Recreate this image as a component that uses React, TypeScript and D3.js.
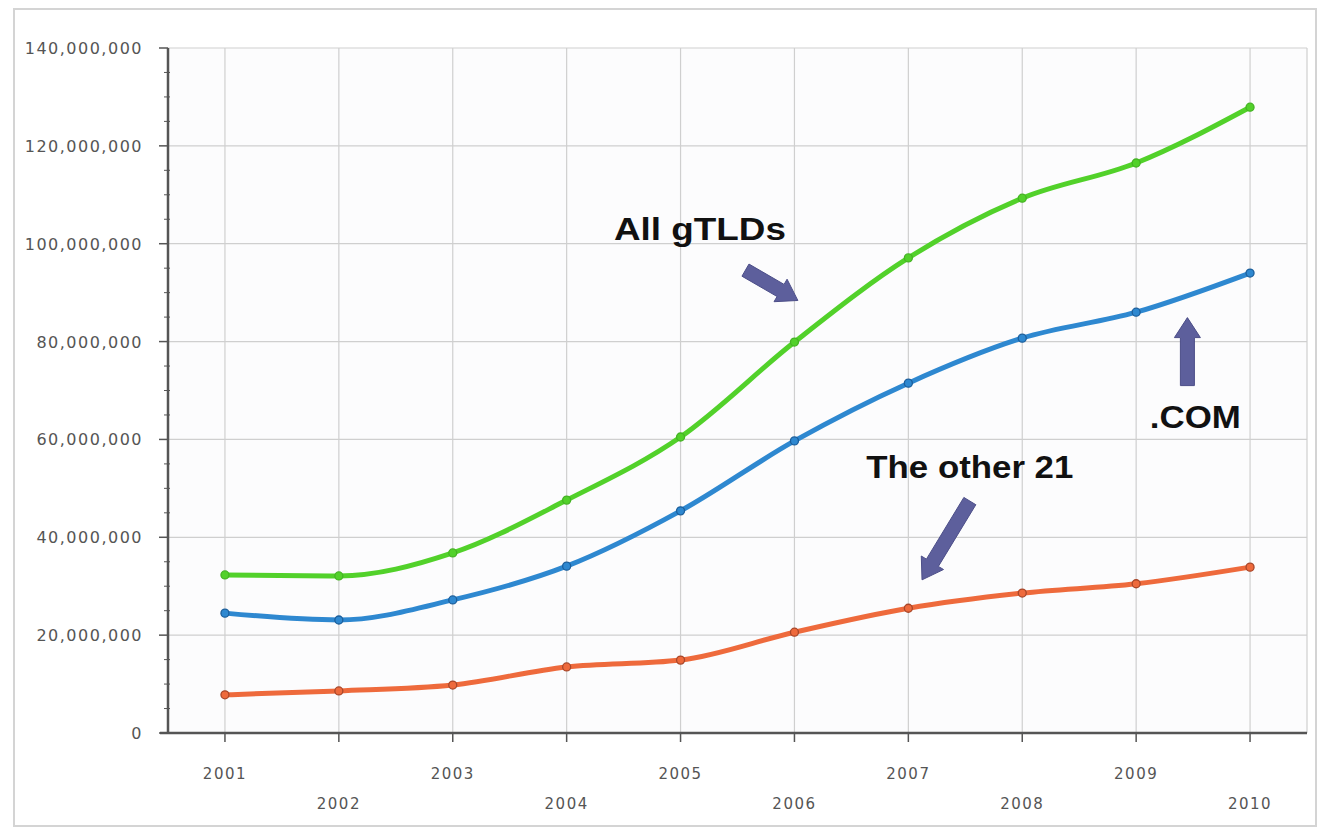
import { useEffect, useRef } from 'react';
import { select, scaleLinear, line, curveMonotoneX, range } from 'd3';

const years = [2001, 2002, 2003, 2004, 2005, 2006, 2007, 2008, 2009, 2010];
const allGtlds = [32.3, 32.1, 36.8, 47.6, 60.5, 79.9, 97.1, 109.3, 116.5, 127.9];
const dotCom = [24.5, 23.1, 27.2, 34.1, 45.4, 59.7, 71.5, 80.7, 86.0, 94.0];
const other21 = [7.8, 8.6, 9.8, 13.5, 14.9, 20.6, 25.5, 28.6, 30.5, 33.9];
const yTicks = [0, 20, 40, 60, 80, 100, 120, 140];

// annotations in data space: [year, millions]
const notes = [
  { text: 'All gTLDs', at: [2005.17, 100.8], len: 172, from: [2005.57, 94.6], to: [2006.03, 88.4] },
  { text: '.COM', at: [2009.52, 62.3], len: 91, from: [2009.45, 71.0], to: [2009.45, 84.9] },
  { text: 'The other 21', at: [2007.54, 52.1], len: 207, from: [2007.54, 47.4], to: [2007.12, 31.3] },
];

const W = 1322;
const H = 829;
const margin = { top: 48, right: 15, bottom: 96, left: 168 };

const fmt = (v: number) => (v === 0 ? '0' : `${v},000,000`);

const blockArrow = (x1: number, y1: number, x2: number, y2: number) => {
  const dx = x2 - x1;
  const dy = y2 - y1;
  const L = Math.hypot(dx, dy);
  const ux = dx / L;
  const uy = dy / L;
  const px = -uy;
  const py = ux;
  const sw = 7;
  const hw = 13;
  const hl = 20;
  const bx = x2 - ux * hl;
  const by = y2 - uy * hl;
  const pts = [
    [x1 + px * sw, y1 + py * sw],
    [bx + px * sw, by + py * sw],
    [bx + px * hw, by + py * hw],
    [x2, y2],
    [bx - px * hw, by - py * hw],
    [bx - px * sw, by - py * sw],
    [x1 - px * sw, y1 - py * sw],
  ];
  return 'M' + pts.map((p) => p.join(',')).join('L') + 'Z';
};

const App = () => {
  const ref = useRef<SVGSVGElement>(null);

  useEffect(() => {
    const svg = select(ref.current);
    svg.selectAll('*').remove();

    const x = scaleLinear()
      .domain([2000.5, 2010.5])
      .range([margin.left, W - margin.right]);
    const y = scaleLinear()
      .domain([0, 140])
      .range([H - margin.bottom, margin.top]);

    const x0 = x.range()[0];
    const x1 = x.range()[1];
    const yb = y(0);
    const yt = y(140);

    svg
      .append('rect')
      .attr('x', 14)
      .attr('y', 9)
      .attr('width', W - 20)
      .attr('height', H - 12)
      .attr('fill', '#fff')
      .attr('stroke', '#d4d4d4')
      .attr('stroke-width', 2);

    svg
      .append('rect')
      .attr('x', x0)
      .attr('y', yt)
      .attr('width', x1 - x0)
      .attr('height', yb - yt)
      .attr('fill', '#fcfcfd');

    const grid = svg.append('g').attr('stroke', '#cfcfcf').attr('stroke-width', 1.2);
    grid
      .selectAll('.h')
      .data(yTicks)
      .join('line')
      .attr('x1', x0)
      .attr('x2', x1)
      .attr('y1', (d) => y(d))
      .attr('y2', (d) => y(d));
    grid
      .selectAll('.v')
      .data([...years, 2010.5])
      .join('line')
      .attr('x1', (d) => x(d))
      .attr('x2', (d) => x(d))
      .attr('y1', yt)
      .attr('y2', yb);

    // axes
    const ax = svg.append('g').attr('stroke', '#555');
    ax.append('line').attr('x1', x0).attr('x2', x0).attr('y1', yt).attr('y2', yb).attr('stroke-width', 2.5);
    ax.append('line').attr('x1', x0 - 8).attr('x2', x1).attr('y1', yb).attr('y2', yb).attr('stroke-width', 2.5);
    ax.selectAll('.maj')
      .data(yTicks)
      .join('line')
      .attr('x1', x0 - 9)
      .attr('x2', x0)
      .attr('y1', (d) => y(d))
      .attr('y2', (d) => y(d))
      .attr('stroke-width', 1.5);
    ax.selectAll('.min')
      .data(range(0, 140, 5).filter((d) => d % 20 !== 0))
      .join('line')
      .attr('x1', x0 - 4)
      .attr('x2', x0 + 2)
      .attr('y1', (d) => y(d))
      .attr('y2', (d) => y(d))
      .attr('stroke-width', 1);
    ax.selectAll('.xt')
      .data(years)
      .join('line')
      .attr('x1', (d) => x(d))
      .attr('x2', (d) => x(d))
      .attr('y1', yb)
      .attr('y2', yb + 9)
      .attr('stroke-width', 1.5);

    svg
      .append('g')
      .selectAll('text')
      .data(yTicks)
      .join('text')
      .attr('x', x0 - 25)
      .attr('y', (d) => y(d) + 6)
      .attr('text-anchor', 'end')
      .attr('font-family', 'DejaVu Sans')
      .attr('font-size', 16)
      .attr('letter-spacing', 1.5)
      .attr('fill', '#555')
      .text(fmt);

    svg
      .append('g')
      .selectAll('text')
      .data(years)
      .join('text')
      .attr('x', (d) => x(d))
      .attr('y', (d, i) => (i % 2 === 0 ? yb + 46 : yb + 76))
      .attr('text-anchor', 'middle')
      .attr('font-family', 'DejaVu Sans')
      .attr('font-size', 15)
      .attr('letter-spacing', 1.5)
      .attr('fill', '#555')
      .text((d) => d);

    const series = [
      { values: allGtlds, color: '#52d12a', dark: '#45b324', shape: 'circle' },
      { values: dotCom, color: '#2e88d0', dark: '#1c5f9c', shape: 'circle' },
      { values: other21, color: '#ee6a3c', dark: '#a8472a', shape: 'circle' },
    ];

    const lineGen = line<number>()
      .x((_, i) => x(years[i]))
      .y((d) => y(d))
      .curve(curveMonotoneX);

    series.forEach((s) => {
      svg
        .append('path')
        .datum(s.values)
        .attr('d', lineGen)
        .attr('fill', 'none')
        .attr('stroke', s.color)
        .attr('stroke-width', 5)
        .attr('stroke-linejoin', 'round');
      svg
        .append('g')
        .selectAll('circle')
        .data(s.values)
        .join('circle')
        .attr('cx', (_, i) => x(years[i]))
        .attr('cy', (d) => y(d))
        .attr('r', 4)
        .attr('fill', s.color)
        .attr('stroke', s.dark)
        .attr('stroke-width', 1.3);
    });

    notes.forEach((n) => {
      svg
        .append('path')
        .attr('d', blockArrow(x(n.from[0]), y(n.from[1]), x(n.to[0]), y(n.to[1])))
        .attr('fill', '#5d5f9c')
        .attr('stroke', '#4c4e88')
        .attr('stroke-width', 1);
      svg
        .append('text')
        .attr('x', x(n.at[0]))
        .attr('y', y(n.at[1]))
        .attr('text-anchor', 'middle')
        .attr('font-family', 'Liberation Sans, Arial, sans-serif')
        .attr('font-weight', 'bold')
        .attr('font-size', 31)
        .attr('textLength', n.len)
        .attr('lengthAdjust', 'spacingAndGlyphs')
        .attr('fill', '#111')
        .text(n.text);
    });
  }, []);

  return (
    <div style={{ position: 'absolute', left: 0, top: 0, width: W, height: H, background: '#fff' }}>
      <svg ref={ref} width={W} height={H} />
    </div>
  );
};

export default App;
